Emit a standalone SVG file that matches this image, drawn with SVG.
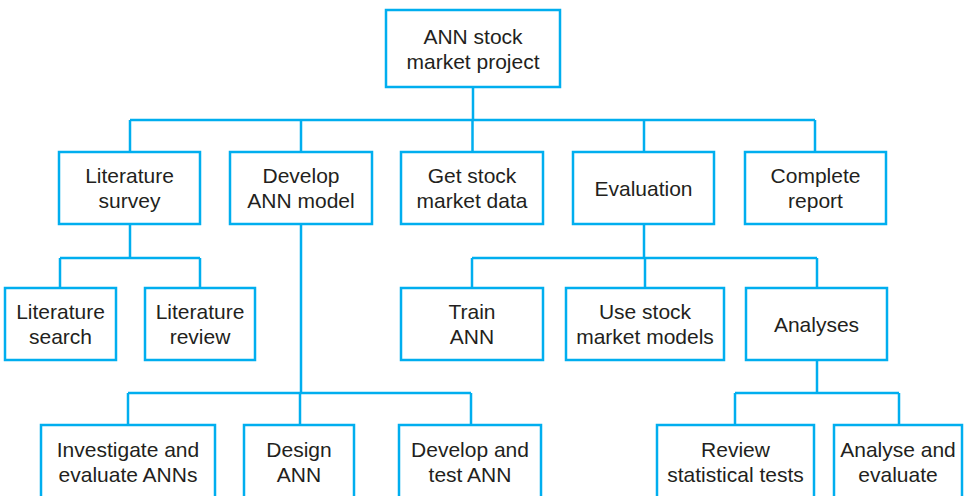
<svg xmlns="http://www.w3.org/2000/svg" width="964" height="496" viewBox="0 0 964 496">
<style>
.box{fill:#fff;stroke:#00aeef;stroke-width:2.5}
.ln{fill:none;stroke:#00aeef;stroke-width:2.5}
text{font-family:"Liberation Sans",Arial,sans-serif;font-size:21px;fill:#231f20;text-anchor:middle}
</style>
<rect width="964" height="496" fill="#fff"/>
<g id="connectors">
<path class="ln" d="M473,87V120M130,120H815M130,120V152M301,120V152M472.5,120V152M644,120V152M815,120V152"/>
<path class="ln" d="M130,224V258M60,258H200M60,258V288M200,258V288"/>
<path class="ln" d="M301,224V393M128,393H471M128,393V425M300,393V425M471,393V425"/>
<path class="ln" d="M644,224V258M472,258H817M472,258V288M645,258V288M817,258V288"/>
<path class="ln" d="M817,360V393M735,393H899M735,393V425M899,393V425"/>
</g>
<g id="root"><rect class="box" x="386" y="10" width="174" height="77"/><text x="473" y="44">ANN stock</text><text x="473" y="69">market project</text></g>
<g id="lit-survey"><rect class="box" x="59" y="152" width="141" height="72"/><text x="129.5" y="183">Literature</text><text x="129.5" y="208">survey</text></g>
<g id="develop-ann"><rect class="box" x="230" y="152" width="142" height="72"/><text x="301" y="183">Develop</text><text x="301" y="208">ANN model</text></g>
<g id="get-data"><rect class="box" x="401" y="152" width="142" height="72"/><text x="472" y="183">Get stock</text><text x="472" y="208">market data</text></g>
<g id="evaluation"><rect class="box" x="573" y="152" width="141" height="72"/><text x="643.5" y="195.5">Evaluation</text></g>
<g id="complete-report"><rect class="box" x="745" y="152" width="141" height="72"/><text x="815.5" y="183">Complete</text><text x="815.5" y="208">report</text></g>
<g id="lit-search"><rect class="box" x="5" y="288" width="111" height="72"/><text x="60.5" y="319">Literature</text><text x="60.5" y="344">search</text></g>
<g id="lit-review"><rect class="box" x="145" y="288" width="110" height="72"/><text x="200" y="319">Literature</text><text x="200" y="344">review</text></g>
<g id="train-ann"><rect class="box" x="401" y="288" width="142" height="72"/><text x="472" y="319">Train</text><text x="472" y="344">ANN</text></g>
<g id="use-models"><rect class="box" x="566" y="288" width="158" height="72"/><text x="645" y="319">Use stock</text><text x="645" y="344">market models</text></g>
<g id="analyses"><rect class="box" x="746" y="288" width="141" height="72"/><text x="816.5" y="332">Analyses</text></g>
<g id="investigate"><rect class="box" x="41" y="425" width="174" height="80"/><text x="128" y="457">Investigate and</text><text x="128" y="482">evaluate ANNs</text></g>
<g id="design-ann"><rect class="box" x="244" y="425" width="110" height="80"/><text x="299" y="457">Design</text><text x="299" y="482">ANN</text></g>
<g id="develop-test"><rect class="box" x="399" y="425" width="142" height="80"/><text x="470" y="457">Develop and</text><text x="470" y="482">test ANN</text></g>
<g id="review-tests"><rect class="box" x="657" y="425" width="157" height="80"/><text x="735.5" y="457">Review</text><text x="735.5" y="482">statistical tests</text></g>
<g id="analyse-evaluate"><rect class="box" x="834" y="425" width="128" height="80"/><text x="898" y="457">Analyse and</text><text x="898" y="482">evaluate</text></g>
</svg>
